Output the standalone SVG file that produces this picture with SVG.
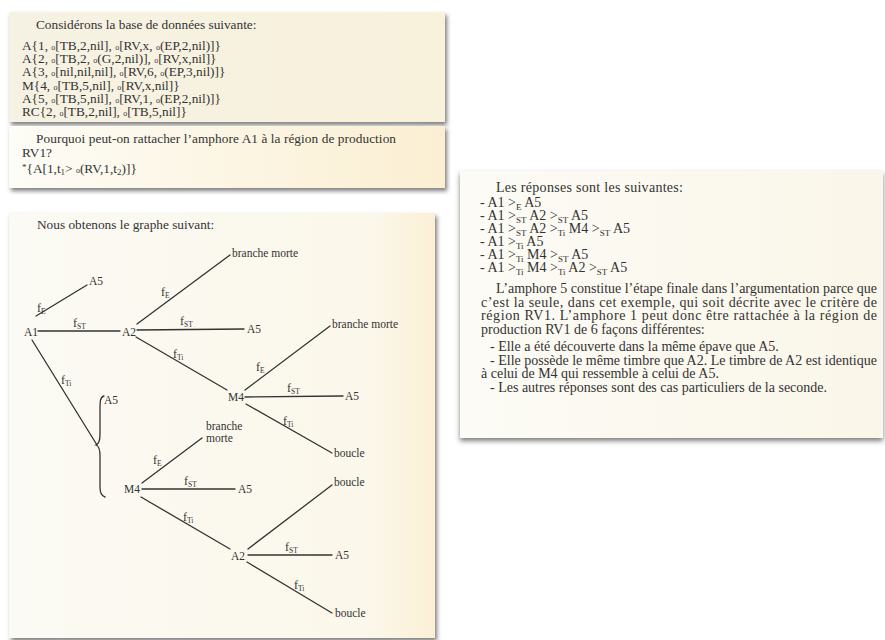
<svg xmlns="http://www.w3.org/2000/svg" width="885" height="640" viewBox="0 0 885 640">
<defs>
<filter id="sh" x="-5%" y="-5%" width="112%" height="115%">
<feDropShadow dx="2" dy="3" stdDeviation="2" flood-color="#444" flood-opacity="0.7"/>
</filter>
<filter id="sh2" x="-5%" y="-5%" width="112%" height="115%">
<feDropShadow dx="0" dy="3" stdDeviation="2.5" flood-color="#444" flood-opacity="0.7"/>
</filter>
<linearGradient id="g1" x1="0" y1="0" x2="1" y2="0"><stop offset="0" stop-color="#f6f2e3"/><stop offset="1" stop-color="#f8f1dc"/></linearGradient>
<linearGradient id="g2" x1="0" y1="0" x2="1" y2="0"><stop offset="0" stop-color="#fdfcf6"/><stop offset="1" stop-color="#fbefd2"/></linearGradient>
<linearGradient id="g3" x1="0" y1="0" x2="1" y2="0"><stop offset="0" stop-color="#fbfaf4"/><stop offset="0.85" stop-color="#fbf7ea"/><stop offset="1" stop-color="#fbf0d6"/></linearGradient>
<linearGradient id="g4" x1="0" y1="0" x2="1" y2="0"><stop offset="0" stop-color="#fcfbf5"/><stop offset="1" stop-color="#faf6e9"/></linearGradient>
</defs>
<style>
text{font-family:"Liberation Serif","Times New Roman",serif;fill:#333}
.b{font-size:13.3px}
.r{font-size:14px}
.g{font-size:11.5px}
.f{font-size:12px}
.o{font-size:8px}
.s{font-size:9px}
.gs{font-size:7.5px}
.e line,.e path{stroke:#333;stroke-width:1.3;fill:none;stroke-linecap:round}
</style>
<rect width="885" height="640" fill="#ffffff"/>

<g id="box-database">
<rect x="9" y="12" width="436" height="110" fill="url(#g1)" filter="url(#sh)"/>
<text class="b" x="36" y="29">Considérons la base de données suivante:</text>
<text class="b" x="22" y="50">A{1, <tspan class="o">o</tspan>[TB,2,nil], <tspan class="o">o</tspan>[RV,x, <tspan class="o">o</tspan>(EP,2,nil)]}</text>
<text class="b" x="22" y="63.2">A{2, <tspan class="o">o</tspan>[TB,2, <tspan class="o">o</tspan>(G,2,nil)], <tspan class="o">o</tspan>[RV,x,nil]}</text>
<text class="b" x="22" y="76.4">A{3, <tspan class="o">o</tspan>[nil,nil,nil], <tspan class="o">o</tspan>[RV,6, <tspan class="o">o</tspan>(EP,3,nil)]}</text>
<text class="b" x="22" y="89.6">M{4, <tspan class="o">o</tspan>[TB,5,nil], <tspan class="o">o</tspan>[RV,x,nil]}</text>
<text class="b" x="22" y="102.8">A{5, <tspan class="o">o</tspan>[TB,5,nil], <tspan class="o">o</tspan>[RV,1, <tspan class="o">o</tspan>(EP,2,nil)]}</text>
<text class="b" x="22" y="116">RC{2, <tspan class="o">o</tspan>[TB,2,nil], <tspan class="o">o</tspan>[TB,5,nil]}</text>
</g>

<g id="box-question">
<rect x="9" y="126" width="436" height="62" fill="url(#g2)" filter="url(#sh)"/>
<text class="b" x="36" y="143" textLength="360" lengthAdjust="spacing">Pourquoi peut-on rattacher l’amphore A1 à la région de production</text>
<text class="b" x="22" y="157">RV1?</text>
<text class="b" x="22" y="173"><tspan class="s" dy="-3">*</tspan><tspan dy="3">{A[1,t</tspan><tspan class="s" dy="2">1</tspan><tspan dy="-2">&gt; </tspan><tspan class="o">o</tspan>(RV,1,t<tspan class="s" dy="2">2</tspan><tspan dy="-2">)]}</tspan></text>
</g>

<g id="box-graph">
<rect x="9" y="213" width="426" height="425" fill="url(#g3)" filter="url(#sh)"/>
<text class="b" x="37" y="229">Nous obtenons le graphe suivant:</text>
</g>

<g id="connectors" class="e">
<line x1="36" y1="316" x2="87" y2="285"/>
<line x1="38" y1="331" x2="120" y2="331"/>
<line x1="32" y1="340" x2="97" y2="445"/>
<line x1="137" y1="324" x2="230" y2="255"/>
<line x1="137" y1="330" x2="244" y2="329"/>
<line x1="136" y1="337" x2="227" y2="390"/>
<line x1="245" y1="390" x2="330" y2="326"/>
<line x1="245" y1="397" x2="343" y2="396"/>
<line x1="246" y1="404" x2="332" y2="453"/>
<path d="M104,396 C100,397 100,402 100,410 L100,434 C100,441 99,444 96,445 C99,446 100,449 100,456 L100,487 C100,493 101,496 105,497"/>
<line x1="142" y1="483" x2="202" y2="438"/>
<line x1="142" y1="489" x2="235" y2="489"/>
<line x1="141" y1="497" x2="230" y2="549"/>
<line x1="248" y1="549" x2="332" y2="485"/>
<line x1="248" y1="555" x2="332" y2="555"/>
<line x1="247" y1="562" x2="332" y2="613"/>
</g>

<g id="edge-labels">
<text class="f" x="37" y="312">f<tspan class="gs" dy="2">E</tspan></text>
<text class="f" x="73" y="327">f<tspan class="gs" dy="2">ST</tspan></text>
<text class="f" x="61" y="384">f<tspan class="gs" dy="2">Ti</tspan></text>
<text class="f" x="161" y="296">f<tspan class="gs" dy="2">E</tspan></text>
<text class="f" x="180" y="325">f<tspan class="gs" dy="2">ST</tspan></text>
<text class="f" x="173" y="358">f<tspan class="gs" dy="2">Ti</tspan></text>
<text class="f" x="256" y="371">f<tspan class="gs" dy="2">E</tspan></text>
<text class="f" x="287" y="392">f<tspan class="gs" dy="2">ST</tspan></text>
<text class="f" x="283" y="425">f<tspan class="gs" dy="2">Ti</tspan></text>
<text class="f" x="153" y="464">f<tspan class="gs" dy="2">E</tspan></text>
<text class="f" x="184" y="485">f<tspan class="gs" dy="2">ST</tspan></text>
<text class="f" x="183" y="521">f<tspan class="gs" dy="2">Ti</tspan></text>
<text class="f" x="285" y="551">f<tspan class="gs" dy="2">ST</tspan></text>
<text class="f" x="294" y="589">f<tspan class="gs" dy="2">Ti</tspan></text>
</g>

<g id="n-A1"><text class="g" x="24" y="336">A1</text></g>
<g id="n-A5-a"><text class="g" x="89" y="285">A5</text></g>
<g id="n-A2-a"><text class="g" x="122" y="336">A2</text></g>
<g id="n-bm-a"><text class="g" x="232" y="257">branche morte</text></g>
<g id="n-A5-b"><text class="g" x="247" y="333">A5</text></g>
<g id="n-M4-a"><text class="g" x="228" y="401">M4</text></g>
<g id="n-bm-b"><text class="g" x="332" y="328">branche morte</text></g>
<g id="n-A5-c"><text class="g" x="345" y="400">A5</text></g>
<g id="n-boucle-a"><text class="g" x="334" y="457">boucle</text></g>
<g id="n-A5-d"><text class="g" x="104" y="404">A5</text></g>
<g id="n-M4-b"><text class="g" x="124" y="493">M4</text></g>
<g id="n-bm-c"><text class="g" x="206" y="430">branche</text><text class="g" x="206" y="442">morte</text></g>
<g id="n-A5-e"><text class="g" x="238" y="493">A5</text></g>
<g id="n-A2-b"><text class="g" x="231" y="560">A2</text></g>
<g id="n-boucle-b"><text class="g" x="334" y="486">boucle</text></g>
<g id="n-A5-f"><text class="g" x="335" y="559">A5</text></g>
<g id="n-boucle-c"><text class="g" x="335" y="617">boucle</text></g>

<g id="box-answers">
<rect x="460" y="171" width="423" height="267" fill="url(#g4)" filter="url(#sh2)"/>
<text class="r" x="496" y="192" textLength="187" lengthAdjust="spacing">Les réponses sont les suivantes:</text>
<text class="r" x="480" y="207">- A1 &gt;<tspan class="s" dy="3">E</tspan><tspan dy="-3"> A5</tspan></text>
<text class="r" x="480" y="220">- A1 &gt;<tspan class="s" dy="3">ST</tspan><tspan dy="-3"> A2 &gt;</tspan><tspan class="s" dy="3">ST</tspan><tspan dy="-3"> A5</tspan></text>
<text class="r" x="480" y="233">- A1 &gt;<tspan class="s" dy="3">ST</tspan><tspan dy="-3"> A2 &gt;</tspan><tspan class="s" dy="3">Ti</tspan><tspan dy="-3"> M4 &gt;</tspan><tspan class="s" dy="3">ST</tspan><tspan dy="-3"> A5</tspan></text>
<text class="r" x="480" y="246">- A1 &gt;<tspan class="s" dy="3">Ti</tspan><tspan dy="-3"> A5</tspan></text>
<text class="r" x="480" y="259">- A1 &gt;<tspan class="s" dy="3">Ti</tspan><tspan dy="-3"> M4 &gt;</tspan><tspan class="s" dy="3">ST</tspan><tspan dy="-3"> A5</tspan></text>
<text class="r" x="480" y="272">- A1 &gt;<tspan class="s" dy="3">Ti</tspan><tspan dy="-3"> M4 &gt;</tspan><tspan class="s" dy="3">Ti</tspan><tspan dy="-3"> A2 &gt;</tspan><tspan class="s" dy="3">ST</tspan><tspan dy="-3"> A5</tspan></text>
<text class="r" x="496" y="293" textLength="381" lengthAdjust="spacing">L’amphore 5 constitue l’étape finale dans l’argumentation parce que</text>
<text class="r" x="481" y="306.5" textLength="396" lengthAdjust="spacing">c’est la seule, dans cet exemple, qui soit décrite avec le critère de</text>
<text class="r" x="481" y="320" textLength="396" lengthAdjust="spacing">région RV1. L’amphore 1 peut donc être rattachée à la région de</text>
<text class="r" x="481" y="333.5">production RV1 de 6 façons différentes:</text>
<text class="r" x="490" y="351">- Elle a été découverte dans la même épave que A5.</text>
<text class="r" x="490" y="364.5" textLength="387" lengthAdjust="spacing">- Elle possède le même timbre que A2. Le timbre de A2 est identique</text>
<text class="r" x="481" y="378">à celui de M4 qui ressemble à celui de A5.</text>
<text class="r" x="490" y="391.5">- Les autres réponses sont des cas particuliers de la seconde.</text>
</g>
</svg>
